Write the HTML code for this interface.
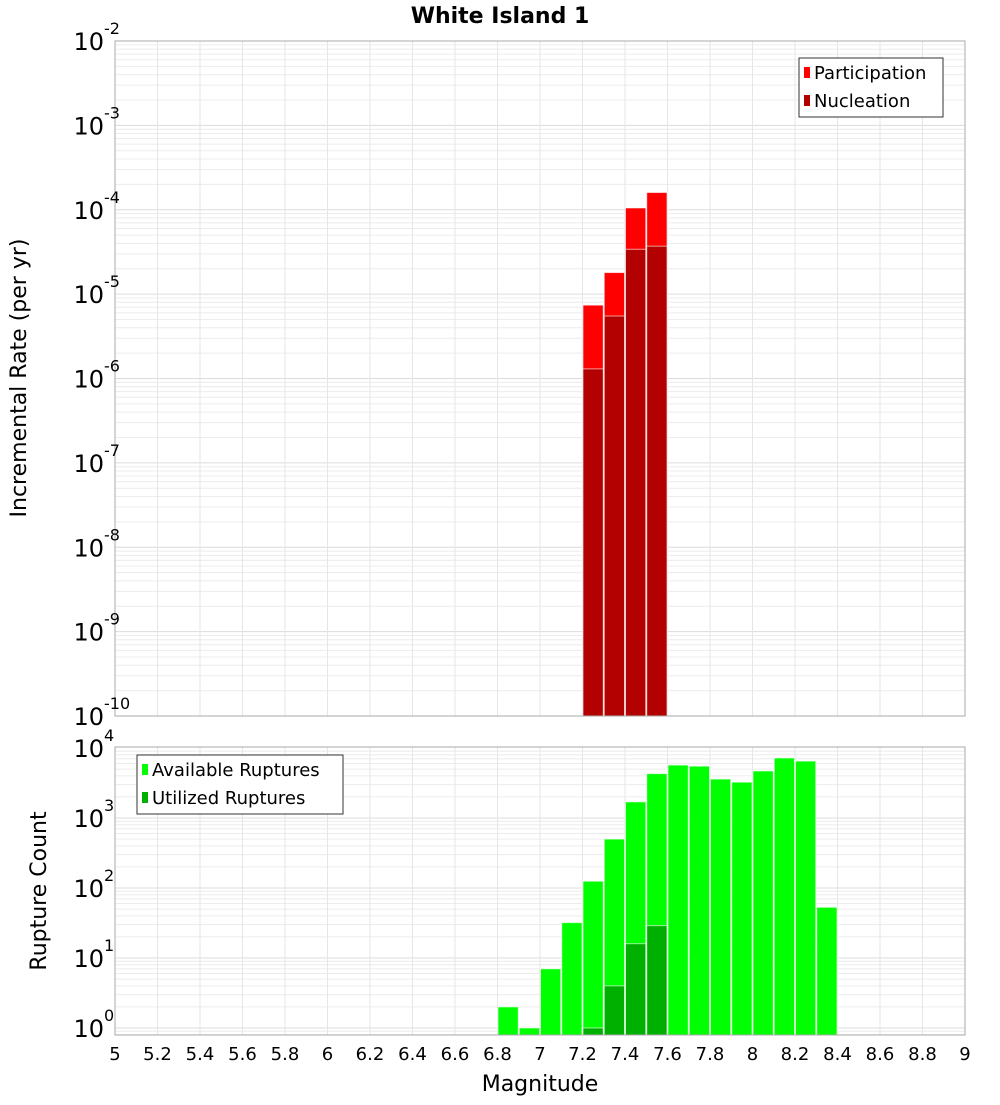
<!DOCTYPE html>
<html><head><meta charset="utf-8"><style>
body{margin:0;background:#fff;font-family:"Liberation Sans","DejaVu Sans",sans-serif}
svg text{font-family:"DejaVu Sans","Liberation Sans",sans-serif}
</style></head><body>
<svg id="c" width="1000" height="1100" xmlns="http://www.w3.org/2000/svg">
<rect width="1000" height="1100" fill="#fff"/>
<text x="500" y="23" text-anchor="middle" font-size="22" font-weight="bold">White Island 1</text>
<text transform="translate(26,378) rotate(-90)" text-anchor="middle" font-size="22">Incremental Rate (per yr)</text>
<text transform="translate(46,891) rotate(-90)" text-anchor="middle" font-size="22">Rupture Count</text>
<text x="540" y="1091" text-anchor="middle" font-size="22">Magnitude</text>
<g id="g"></g>
</svg>
<script>
const rateBins=[7.2,7.3,7.4,7.5];
const participation=[7.4e-6,1.8e-5,1.05e-4,1.6e-4];
const nucleation=[1.3e-6,5.5e-6,3.4e-5,3.7e-5];
const countBins=[6.8,6.9,7.0,7.1,7.2,7.3,7.4,7.5,7.6,7.7,7.8,7.9,8.0,8.1,8.2,8.3];
const available=[2,1,7,32,125,500,1700,4300,5700,5500,3600,3250,4700,7200,6500,53];
const utilBins=[7.2,7.3,7.4,7.5];
const utilized=[1,4,16,29];
const xTicks=["5","5.2","5.4","5.6","5.8","6","6.2","6.4","6.6","6.8","7","7.2","7.4","7.6","7.8","8","8.2","8.4","8.6","8.8","9"];
const topExp=[-2,-3,-4,-5,-6,-7,-8,-9,-10];
const botExp=[4,3,2,1,0];

const NS="http://www.w3.org/2000/svg";
const g=document.getElementById('g');
function el(t,a,p){const e=document.createElementNS(NS,t);for(const k in a)e.setAttribute(k,a[k]);(p||g).appendChild(e);return e;}
const L=115,R=965;
const X=m=>L+(m-5)/4*(R-L);
const T={top:41,bot:716,hi:-2,lo:-10};
const B={top:747,bot:1035,hi:4.0,lo:-0.1};
const Yt=v=>T.top+(T.hi-Math.log10(v))/(T.hi-T.lo)*(T.bot-T.top);
const Yb=v=>1028-Math.log10(v)*70;

function grid(P,yf,d0,d1){
  for(let d=d0;d<d1;d++)for(let k=1;k<10;k++){const y=yf(k*Math.pow(10,d));if(y<P.top||y>P.bot)continue;
    const l=el('line',{x1:L,x2:R,y1:y,y2:y,stroke:k==1?'#dcdcdc':'#ececec','stroke-width':1});
    }
  xTicks.forEach(t=>{const x=X(+t);const l=el('line',{x1:x,x2:x,y1:P.top,y2:P.bot,stroke:'#e6e6e6'});
    });
}
grid(T,Yt,-10,-2);
grid(B,Yb,-1,4);

function bar(m,v,yf,P,fill,name){
  const x=X(m)+0.5,w=X(m+0.1)-X(m)-1,y=yf(v);
  const r=el('rect',{x:x,y:y,width:w,height:P.bot-y,fill:fill,stroke:'#fff','stroke-opacity':0.6,'stroke-width':1});
  
}
rateBins.forEach((m,i)=>bar(m,participation[i],Yt,T,'#ff0000','participation-bar'));
rateBins.forEach((m,i)=>bar(m,nucleation[i],Yt,T,'#b30000','nucleation-bar'));
countBins.forEach((m,i)=>bar(m,available[i],Yb,B,'#00ff00','available-ruptures-bar'));
utilBins.forEach((m,i)=>bar(m,utilized[i],Yb,B,'#00b000','utilized-ruptures-bar'));

[T,B].forEach((P,i)=>{const f=el('rect',{x:L,y:P.top,width:R-L,height:P.bot-P.top,fill:'none',stroke:'#aaa'});
  });

function ylab(e,y,name){
  const t=el('text',{x:104,y:y+9,'text-anchor':'end','font-size':24});
  
  t.textContent='10';
  const s=el('text',{x:104,y:y-7,'font-size':16});
  
  s.textContent=String(e);
}
topExp.forEach(e=>ylab(e,Yt(Math.pow(10,e)),'top-y-tick-label'));
botExp.forEach(e=>ylab(e,Yb(Math.pow(10,e)),'bottom-y-tick-label'));
xTicks.forEach(t=>{const x=X(+t);const e=el('text',{x:x,y:1060,'text-anchor':'middle','font-size':18});
  e.textContent=t;});

function legend(x,y,w,items,name){
  const gg=el('g',{});
  el('rect',{x:x,y:y,width:w,height:59,fill:'#fff',stroke:'#333'},gg);
  items.forEach((it,i)=>{
    const r=el('rect',{x:x+5,y:y+9+i*28,width:6,height:11,fill:it[1]},gg);
    
    const t=el('text',{x:x+15,y:y+21+i*28,'font-size':18},gg);
    
    t.textContent=it[0];});
}
legend(799,58,144,[['Participation','#ff0000'],['Nucleation','#b30000']],'top-legend');
legend(137,755,206,[['Available Ruptures','#00ff00'],['Utilized Ruptures','#00b000']],'bottom-legend');
</script>
</body></html>
